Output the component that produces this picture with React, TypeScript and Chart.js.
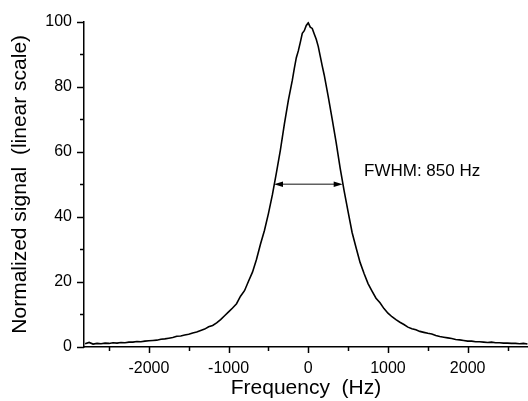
import React, { useEffect, useRef } from "react";
import { Chart, registerables } from "chart.js";

Chart.register(...registerables);

// ---------- data ----------
const freqHz: number[] = [
  -2800, -2750, -2700, -2650, -2600, -2550, -2500, -2450, -2400, -2350,
  -2300, -2250, -2200, -2150, -2100, -2050, -2000, -1950, -1900, -1850,
  -1800, -1750, -1700, -1650, -1600, -1550, -1500, -1450, -1400, -1350,
  -1300, -1250, -1200, -1150, -1100, -1050, -1000, -950, -900, -850,
  -800, -750, -700, -650, -600, -550, -500, -450, -400, -350,
  -300, -250,
  -200, -175, -150, -125, -100, -75, -50, -25, 0, 25, 50, 75, 100, 125, 150, 175, 200,
  250, 300, 350, 400, 450, 500, 550, 600, 650, 700,
  750, 800, 850, 900, 950, 1000, 1050, 1100, 1150, 1200,
  1250, 1300, 1350, 1400, 1450, 1500, 1550, 1600, 1650, 1700,
  1750, 1800, 1850, 1900, 1950, 2000, 2050, 2100, 2150, 2200,
  2250, 2300, 2350, 2400, 2450, 2500, 2550, 2600, 2650, 2700,
  2750,
];

const signal: number[] = [
  1.0, 1.4, 0.9, 1.1, 1.0, 1.2, 1.1, 1.3, 1.2, 1.4,
  1.3, 1.5, 1.5, 1.7, 1.6, 1.8, 1.9, 2.0, 2.1, 2.4,
  2.5, 2.7, 2.9, 3.3, 3.4, 3.7, 3.9, 4.3, 4.6, 5.1,
  5.5, 6.2, 6.6, 7.4, 8.4, 9.6, 10.8, 12.0, 13.3, 15.6,
  17.3, 20.2, 23.0, 26.9, 31.6, 35.8, 41.0, 46.8, 53.5, 60.5,
  68.5, 75.8,
  82.0, 85.6, 88.9, 91.0, 93.6, 96.4, 97.2, 98.8, 99.6, 98.3, 97.9, 96.2, 94.6, 92.4, 89.4, 86.4, 83.6,
  77.0, 70.0, 62.8, 55.0, 48.0, 41.5, 35.2, 30.5, 26.0, 22.6,
  19.5, 17.2, 15.0, 13.6, 11.8, 10.4, 9.3, 8.4, 7.6, 6.9,
  6.1, 5.6, 5.3, 4.8, 4.5, 4.2, 4.0, 3.5, 3.2, 3.0,
  2.8, 2.6, 2.3, 2.2, 2.0, 1.8, 1.8, 1.6, 1.6, 1.5,
  1.4, 1.5, 1.3, 1.3, 1.2, 1.2, 1.1, 1.1, 1.0, 1.1,
  0.9,
];

const xMajorTicks = [-2000, -1000, 0, 1000, 2000];
const xMinorTicks = [-2500, -1500, -500, 500, 1500, 2500];
const yMajorTicks = [0, 20, 40, 60, 80, 100];
const yMinorTicks = [10, 30, 50, 70, 90];

const fwhmFreqs = [-430, 432];
const fwhmLevel = 50;
const fwhmLabel = "FWHM: 850 Hz";
const fwhmLabelAt = [700, 54];

const FONT = "'Liberation Sans', Arial, Helvetica, sans-serif";

const decorPlugin = {
  id: "decor",
  afterDraw(chart: any) {
    const { ctx, scales } = chart;
    const xs = scales.x;
    const ys = scales.y;
    const bottom = chart.chartArea.bottom;
    const left = chart.chartArea.left;
    ctx.save();
    ctx.strokeStyle = "#000";
    ctx.lineWidth = 1.5;
    const xt = (v: number, len: number) => {
      const px = Math.round(xs.getPixelForValue(v)) + 0.5;
      ctx.beginPath();
      ctx.moveTo(px, bottom);
      ctx.lineTo(px, bottom + len);
      ctx.stroke();
    };
    xMajorTicks.forEach((v) => xt(v, 6));
    xMinorTicks.forEach((v) => xt(v, 4));
    const yt = (v: number, len: number) => {
      const py = Math.round(ys.getPixelForValue(v)) + 0.5;
      ctx.beginPath();
      ctx.moveTo(left, py);
      ctx.lineTo(left - len, py);
      ctx.stroke();
    };
    yMajorTicks.forEach((v) => yt(v, 7));
    yMinorTicks.forEach((v) => yt(v, 4));

    // FWHM arrow
    const x1 = xs.getPixelForValue(fwhmFreqs[0]);
    const x2 = xs.getPixelForValue(fwhmFreqs[1]);
    const y = ys.getPixelForValue(fwhmLevel);
    ctx.strokeStyle = "#606060";
    ctx.lineWidth = 1.5;
    ctx.beginPath();
    ctx.moveTo(x1 + 6, y);
    ctx.lineTo(x2 - 6, y);
    ctx.stroke();
    ctx.fillStyle = "#000";
    ctx.beginPath();
    ctx.moveTo(x1, y);
    ctx.lineTo(x1 + 9, y - 2.8);
    ctx.lineTo(x1 + 9, y + 2.8);
    ctx.closePath();
    ctx.fill();
    ctx.beginPath();
    ctx.moveTo(x2, y);
    ctx.lineTo(x2 - 9, y - 2.8);
    ctx.lineTo(x2 - 9, y + 2.8);
    ctx.closePath();
    ctx.fill();

    // label
    ctx.font = `17px ${FONT}`;
    ctx.textAlign = "left";
    ctx.textBaseline = "middle";
    ctx.fillStyle = "#000";
    ctx.fillText(fwhmLabel, xs.getPixelForValue(fwhmLabelAt[0]), ys.getPixelForValue(fwhmLabelAt[1]));
    ctx.restore();
  },
};

export default function App() {
  const ref = useRef<HTMLCanvasElement>(null);
  useEffect(() => {
    const canvas = ref.current;
    if (!canvas) return;
    const chart = new Chart(canvas, {
      type: "line",
      data: {
        datasets: [
          {
            data: freqHz.map((f, i) => ({ x: f, y: signal[i] })),
            borderColor: "#000",
            borderWidth: 1.6,
            pointRadius: 0,
            tension: 0,
            fill: false,
          },
        ],
      },
      options: {
        responsive: false,
        animation: false,
        devicePixelRatio: 1,
        layout: { padding: { top: 17, right: 0, left: 0, bottom: 0 } },
        plugins: { legend: { display: false }, tooltip: { enabled: false } },
        scales: {
          x: {
            type: "linear",
            min: -2814,
            max: 2757,
            afterBuildTicks: (s: any) => {
              s.ticks = xMajorTicks.map((v) => ({ value: v }));
            },
            afterFit: (s: any) => {
              s.height = 54;
            },
            grid: { display: false, drawTicks: false },
            border: { display: true, color: "#000", width: 1.5 },
            ticks: {
              padding: 12,
              color: "#000",
              font: { family: FONT, size: 16 },
              maxRotation: 0,
              autoSkip: false,
              callback: (v: any) => String(v),
            },
            title: {
              display: true,
              text: "Frequency  (Hz)",
              color: "#000",
              font: { family: FONT, size: 21 },
              padding: { top: 0, bottom: 0 },
            },
          },
          y: {
            type: "linear",
            min: 0,
            max: 100,
            afterBuildTicks: (s: any) => {
              s.ticks = yMajorTicks.map((v) => ({ value: v }));
            },
            afterFit: (s: any) => {
              s.width = 84;
            },
            grid: { display: false, drawTicks: false },
            border: { display: true, color: "#000", width: 1.5 },
            ticks: {
              padding: 12,
              color: "#000",
              font: { family: FONT, size: 16 },
              callback: (v: any) => String(v),
            },
            title: {
              display: true,
              text: "Normalized signal  (linear scale)",
              color: "#000",
              font: { family: FONT, size: 21 },
              padding: { top: 8, bottom: 0 },
            },
          },
        },
      },
      plugins: [decorPlugin],
    } as any);
    return () => chart.destroy();
  }, []);
  return (
    <div style={{ position: "fixed", left: 0, top: 0, width: 528, height: 401, background: "#fff" }}>
      <canvas ref={ref} width={528} height={401} style={{ display: "block" }} />
    </div>
  );
}
